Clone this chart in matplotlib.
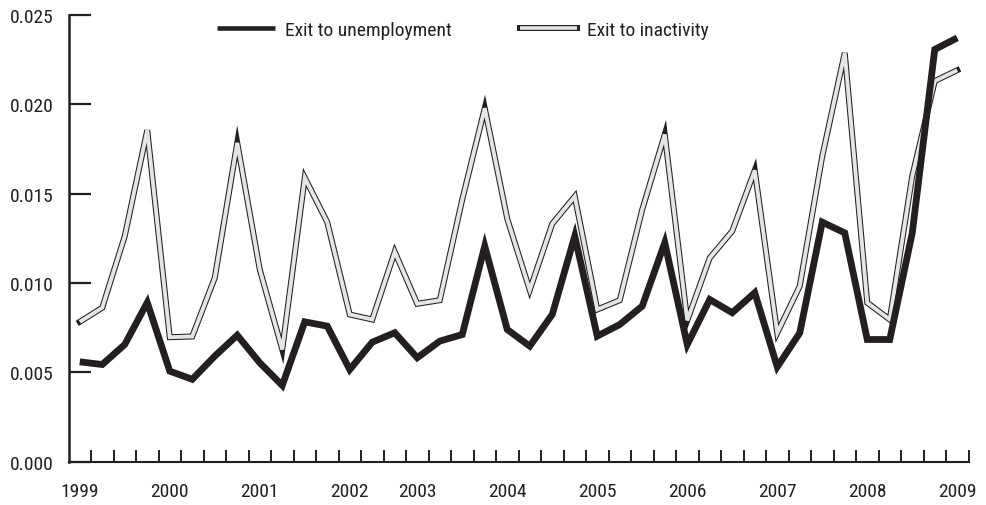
import matplotlib
matplotlib.use("Agg")
import matplotlib.pyplot as plt
import matplotlib.patheffects as pe
from matplotlib.lines import Line2D
from matplotlib import font_manager as fm
import numpy as np

quarter_labels = ["1999", "", "", "", "2000", "", "", "", "2001", "", "", "", "2002", "", "",
                  "2003", "", "", "", "2004", "", "", "", "2005", "", "", "", "2006", "", "", "",
                  "2007", "", "", "", "2008", "", "", "", "2009"]

exit_unemployment = [0.00558, 0.00543, 0.00655, 0.00890, 0.00506, 0.00460, 0.00590, 0.00707, 0.00553, 0.00426,
                     0.00782, 0.00758, 0.00515, 0.00668, 0.00721, 0.00581, 0.00674, 0.00711, 0.01206, 0.00739,
                     0.00646, 0.00823, 0.01262, 0.00702, 0.00767, 0.00870, 0.01225, 0.00655, 0.00907, 0.00833,
                     0.00945, 0.00530, 0.00720, 0.01340, 0.01280, 0.00683, 0.00683, 0.01280, 0.02307, 0.02372]

exit_inactivity = [0.00782, 0.00861, 0.01262, 0.01855, 0.00696, 0.00700, 0.01028, 0.01784, 0.01075, 0.00627,
                   0.01589, 0.01340, 0.00823, 0.00795, 0.01174, 0.00883, 0.00903, 0.01467, 0.01978, 0.01359,
                   0.00960, 0.01331, 0.01484, 0.00851, 0.00903, 0.01411, 0.01831, 0.00790, 0.01140, 0.01290,
                   0.01630, 0.00720, 0.00982, 0.01709, 0.02288, 0.00889, 0.00795, 0.01598, 0.02130, 0.02191]

y_ticks = [0.000, 0.005, 0.010, 0.015, 0.020, 0.025]

installed = {f.name for f in fm.fontManager.ttflist}
preferred = ["Roboto Condensed", "Archivo Narrow", "Liberation Sans Narrow", "Asap Condensed"]
FONT = [f for f in preferred if f in installed] + ["DejaVu Sans"]
plt.rcParams["font.family"] = FONT
FS = 14
DARK = "#231f20"
LIGHT = "#e4e5e6"

fig = plt.figure(figsize=(9.87, 5.06), dpi=100)
ax = fig.add_axes([68.5 / 987, 1 - 462.5 / 506, 900 / 987, 446.5 / 506])

x = np.arange(len(quarter_labels))

gray_effects = [pe.Stroke(linewidth=4.3, foreground=DARK, capstyle="projecting", joinstyle="miter"),
                pe.Normal()]
ax.plot(x, exit_inactivity, color=LIGHT, lw=2.8, solid_joinstyle="miter", solid_capstyle="butt",
        path_effects=gray_effects, zorder=3)
ax.plot(x, exit_unemployment, color=DARK, lw=4.9, solid_joinstyle="miter", solid_capstyle="butt", zorder=4)

ax.set_xlim(-0.5, len(quarter_labels) - 0.5)
ax.set_ylim(0, 0.025)

for s in ["top", "right"]:
    ax.spines[s].set_visible(False)
ax.spines["left"].set_linewidth(1.8)
ax.spines["bottom"].set_linewidth(1.5)
ax.spines["left"].set_color(DARK)
ax.spines["bottom"].set_color(DARK)

ax.set_yticks(y_ticks)
ax.set_yticklabels([f"{v:.3f}" for v in y_ticks])
ax.tick_params(axis="y", direction="in", length=16, width=1.6, color=DARK, pad=11,
               labelsize=FS, labelcolor=DARK)

# tick marks at quarter boundaries, labels at quarter centres
ax.set_xticks(x + 0.5)
ax.set_xticklabels([])
ax.tick_params(axis="x", which="major", direction="in", length=9, width=1.4, color=DARK)
ax.set_xticks(x, minor=True)
ax.set_xticklabels(quarter_labels, minor=True)
ax.tick_params(axis="x", which="minor", length=0, pad=15, labelsize=FS, labelcolor=DARK)

h1 = Line2D([], [], color=DARK, lw=3.3, solid_capstyle="butt")
h2 = Line2D([], [], color=LIGHT, lw=2.6, solid_capstyle="butt", path_effects=gray_effects)
fig.legend([h1, h2], ["Exit to unemployment", "Exit to inactivity"], loc="center",
           bbox_to_anchor=(463 / 987, 1 - 31 / 506), ncol=2, frameon=False, fontsize=FS,
           handlelength=2.95, handletextpad=0.52, columnspacing=3.5, borderpad=0,
           labelcolor=DARK)

fig.savefig("out.png", dpi=100)
